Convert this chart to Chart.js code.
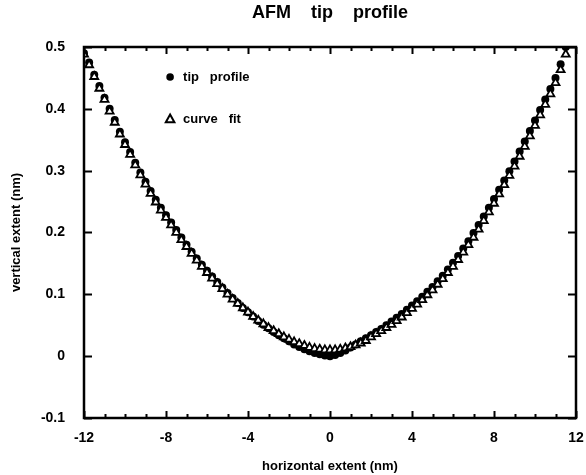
<!DOCTYPE html>
<html>
<head>
<meta charset="utf-8">
<script src="https://cdn.jsdelivr.net/npm/chart.js@4/dist/chart.umd.min.js"></script>
<style>
html,body{margin:0;padding:0;background:#fff;}
#wrap{width:586px;height:475px;position:relative;}
</style>
</head>
<body>
<div id="wrap"><canvas id="c" width="586" height="475"></canvas></div>
<script>
// x positions (nm)
const xValues = [
 -12,-11.75,-11.5,-11.25,-11,-10.75,-10.5,-10.25,-10,-9.75,-9.5,-9.25,-9,-8.75,-8.5,-8.25,
 -8,-7.75,-7.5,-7.25,-7,-6.75,-6.5,-6.25,-6,-5.75,-5.5,-5.25,-5,-4.75,-4.5,-4.25,
 -4,-3.75,-3.5,-3.25,-3,-2.75,-2.5,-2.25,-2,-1.75,-1.5,-1.25,-1,-0.75,-0.5,-0.25,
 0,0.25,0.5,0.75,1,1.25,1.5,1.75,2,2.25,2.5,2.75,3,3.25,3.5,3.75,
 4,4.25,4.5,4.75,5,5.25,5.5,5.75,6,6.25,6.5,6.75,7,7.25,7.5,7.75,
 8,8.25,8.5,8.75,9,9.25,9.5,9.75,10,10.25,10.5,10.75,11,11.25,11.5
];
// tip profile (nm)
const tipProfile = [
 0.490,0.475,0.455,0.437,0.418,0.400,0.382,0.363,0.346,0.330,0.313,0.297,0.282,0.267,0.253,0.240,
 0.228,0.216,0.204,0.192,0.180,0.169,0.158,0.148,0.138,0.129,0.120,0.111,0.102,0.094,0.086,0.078,
 0.071,0.064,0.057,0.051,0.045,0.039,0.034,0.029,0.024,0.019,0.015,0.011,0.008,0.005,0.003,0.001,
 0.000,0.002,0.005,0.009,0.014,0.019,0.024,0.029,0.034,0.039,0.044,0.050,0.056,0.062,0.068,0.075,
 0.082,0.089,0.096,0.104,0.112,0.121,0.130,0.140,0.151,0.162,0.174,0.186,0.199,0.212,0.226,0.240,
 0.254,0.269,0.284,0.299,0.315,0.331,0.347,0.364,0.381,0.398,0.415,0.432,0.450,0.472,0.500
];
// curve fit (nm)
const curveFit = [
 0.488,0.471,0.452,0.433,0.415,0.396,0.378,0.359,0.342,0.326,0.309,0.293,0.278,0.263,0.249,0.236,
 0.224,0.212,0.200,0.188,0.177,0.166,0.155,0.145,0.135,0.126,0.117,0.109,0.100,0.092,0.085,0.078,
 0.071,0.064,0.058,0.052,0.046,0.041,0.036,0.031,0.027,0.023,0.020,0.017,0.014,0.012,0.011,0.010,
 0.010,0.010,0.011,0.013,0.015,0.018,0.021,0.025,0.031,0.036,0.041,0.046,0.051,0.057,0.063,0.070,
 0.077,0.084,0.091,0.099,0.107,0.116,0.125,0.135,0.145,0.156,0.168,0.180,0.192,0.205,0.219,0.233,
 0.247,0.262,0.277,0.292,0.307,0.323,0.339,0.356,0.373,0.390,0.407,0.424,0.442,0.463,0.488
];
const xTickLabels = {"-12":"-12","-8":"-8","-4":"-4","0":"0","4":"4","8":"8","12":"12"};
const yTickLabels = {"0.5":"0.5","0.4":"0.4","0.3":"0.3","0.2":"0.2","0.1":"0.1","0":"0","-0.1":"-0.1"};
const seriesNames = ["tip profile","curve fit"];
const chartTitle = "AFM    tip    profile";

const FONT = "'Liberation Sans', Arial, sans-serif";

const frameTicks = {
  id:'frameTicks',
  afterDatasetsDraw(chart){
    const {ctx, chartArea:a, scales:{x,y}} = chart;
    ctx.save();
    ctx.strokeStyle = '#000';
    ctx.lineWidth = 2.5;
    ctx.strokeRect(a.left, a.top, a.right-a.left, a.bottom-a.top);
    ctx.lineWidth = 2;
    for (let v=-12; v<=12; v++){
      const px = Math.round(x.getPixelForValue(v))+0.5;
      const len = (v%4===0) ? 7 : 4;
      ctx.beginPath();
      ctx.moveTo(px, a.bottom); ctx.lineTo(px, a.bottom-len);
      ctx.moveTo(px, a.top); ctx.lineTo(px, a.top+len);
      ctx.stroke();
    }
    for (let i=-1; i<=5; i++){
      const py = Math.round(y.getPixelForValue(i/10))+0.5;
      ctx.beginPath();
      ctx.moveTo(a.left, py); ctx.lineTo(a.left+8, py);
      ctx.moveTo(a.right, py); ctx.lineTo(a.right-8, py);
      ctx.stroke();
    }
    // legend inside plot
    const lx = x.getPixelForValue(-7.8);
    const ly1 = y.getPixelForValue(0.4515);
    const ly2 = y.getPixelForValue(0.3835);
    ctx.fillStyle = '#000';
    ctx.beginPath(); ctx.arc(lx, ly1, 3.8, 0, Math.PI*2); ctx.fill();
    ctx.lineWidth = 2;
    ctx.beginPath();
    ctx.moveTo(lx, ly2-4.5); ctx.lineTo(lx+4.3, ly2+3.2); ctx.lineTo(lx-4.3, ly2+3.2); ctx.closePath();
    ctx.fillStyle='#fff'; ctx.fill(); ctx.stroke();
    ctx.fillStyle = '#000';
    ctx.font = "bold 13px " + FONT;
    ctx.textBaseline = 'middle';
    ctx.textAlign = 'left';
    ctx.fillText(seriesNames[0].replace(' ','   '), lx+13, ly1);
    ctx.fillText(seriesNames[1].replace(' ','   '), lx+13, ly2);
    // title centred over plot area
    ctx.font = "bold 18px " + FONT;
    ctx.textAlign = 'center';
    ctx.fillText(chartTitle, (a.left+a.right)/2, 13);
    ctx.restore();
  }
};

new Chart(document.getElementById('c'), {
  type:'scatter',
  data:{
    datasets:[
      {label:seriesNames[1], data:xValues.map((v,i)=>({x:v,y:curveFit[i]})),
       pointStyle:'triangle', pointRadius:4.6, backgroundColor:'#fff', borderColor:'#000', borderWidth:1.8, order:0},
      {label:seriesNames[0], data:xValues.map((v,i)=>({x:v,y:tipProfile[i]})),
       pointStyle:'circle', pointRadius:4, backgroundColor:'#000', borderColor:'#000', borderWidth:0, order:1}
    ]
  },
  options:{
    responsive:false, animation:false,
    layout:{padding:{left:0,right:10,top:47,bottom:0}},
    plugins:{
      legend:{display:false}, tooltip:{enabled:false}, title:{display:false}
    },
    scales:{
      x:{type:'linear', min:-12, max:12,
        afterFit(s){ s.height = 57; },
        afterBuildTicks(s){ s.ticks = Object.keys(xTickLabels).map(k=>({value:+k})); },
        ticks:{color:'#000', padding:12, maxRotation:0, font:{family:FONT,size:14,weight:'bold'},
          callback:(v)=>xTickLabels[String(v)] ?? ''},
        grid:{display:false, drawTicks:false}, border:{display:false},
        title:{display:true, text:'horizontal extent (nm)', color:'#000', padding:{top:4,bottom:1},
          font:{family:FONT,size:13,weight:'bold'}}
      },
      y:{type:'linear', min:-0.1, max:0.5,
        afterFit(s){ s.width = 84; },
        afterBuildTicks(s){ s.ticks = Object.keys(yTickLabels).map(k=>({value:+k})); },
        ticks:{color:'#000', padding:19, font:{family:FONT,size:14,weight:'bold'},
          callback:(v)=>yTickLabels[String(Math.round(v*10)/10)] ?? ''},
        grid:{display:false, drawTicks:false}, border:{display:false},
        title:{display:true, text:'vertical extent (nm)', color:'#000', padding:{top:9,bottom:0},
          font:{family:FONT,size:13,weight:'bold'}}
      }
    }
  },
  plugins:[frameTicks]
});
</script>
</body>
</html>
